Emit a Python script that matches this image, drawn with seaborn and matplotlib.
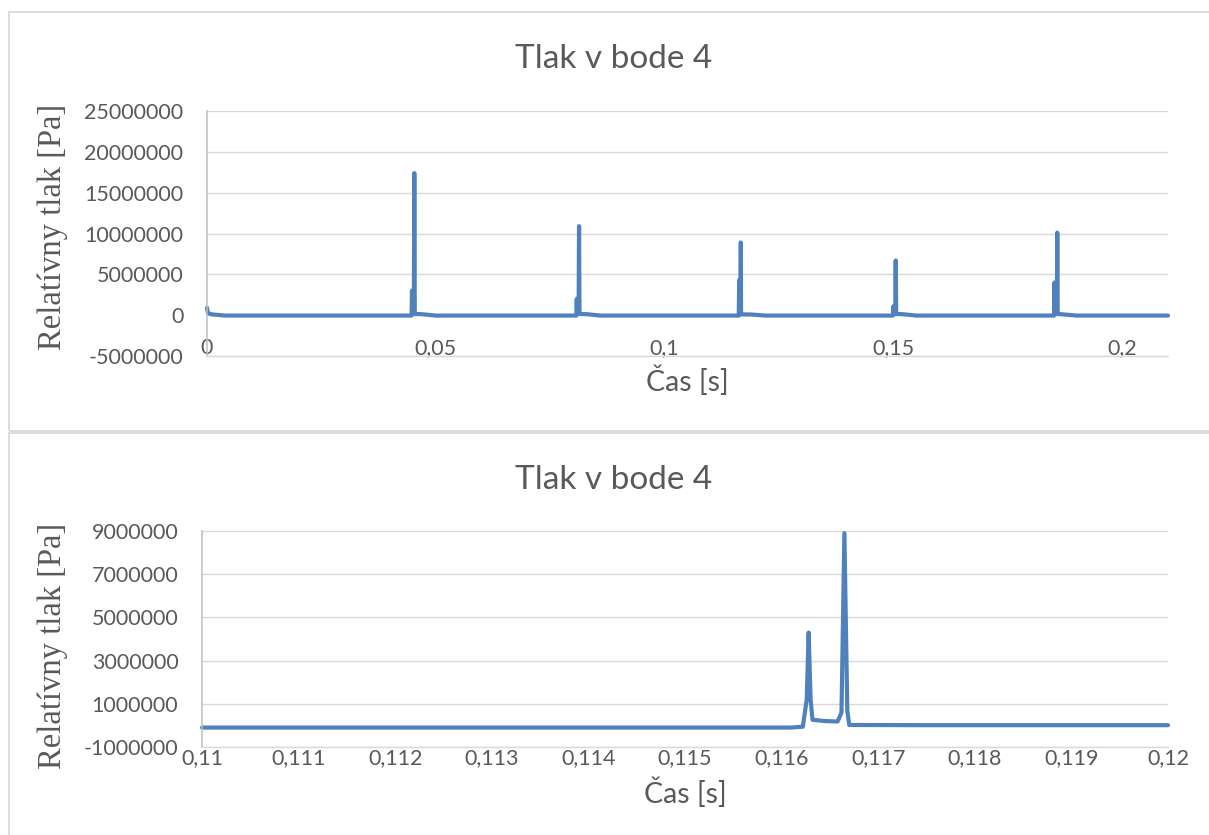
import seaborn as sns
import matplotlib
matplotlib.use("Agg")
import matplotlib.pyplot as plt
from matplotlib.patches import Rectangle
from matplotlib.ticker import FuncFormatter, MultipleLocator, FixedLocator

# data
# top: whole record, 0 .. 0.21 s
top_time = [0, 0.0002, 0.001, 0.004,
            0.0447, 0.0448, 0.0449, 0.0452, 0.0453, 0.0454, 0.047, 0.050,
            0.0807, 0.0808, 0.0809, 0.0812, 0.0813, 0.0814, 0.083, 0.086,
            0.1162, 0.1163, 0.1164, 0.11655, 0.11665, 0.1167, 0.119, 0.122,
            0.1499, 0.1500, 0.1501, 0.1504, 0.1505, 0.1506, 0.152, 0.155,
            0.1851, 0.1852, 0.1853, 0.1857, 0.1858, 0.1859, 0.187, 0.190,
            0.21]
top_pressure = [900000, 250000, 100000, -50000,
                -50000, 3000000, 200000, 200000, 17400000, 150000, 120000, -50000,
                -50000, 2000000, 200000, 200000, 10900000, 150000, 120000, -50000,
                -50000, 4300000, 200000, 200000, 8900000, 100000, 80000, -50000,
                -50000, 1100000, 200000, 200000, 6700000, 150000, 120000, -50000,
                -50000, 4000000, 200000, 200000, 10100000, 150000, 100000, -50000,
                -50000]
top_yticks = [-5000000, 0, 5000000, 10000000, 15000000, 20000000, 25000000]

# bottom: detail 0.110 .. 0.120 s
bottom_time = [0.110, 0.1161, 0.11622, 0.11626, 0.11628, 0.11630, 0.11632,
               0.11645, 0.11658, 0.11662, 0.11665, 0.11668, 0.11670, 0.1175, 0.120]
bottom_pressure = [-100000, -100000, -60000, 1200000, 4300000, 1200000, 260000,
                   200000, 180000, 600000, 8900000, 700000, 20000, 10000, 10000]
bottom_yticks = [-1000000, 1000000, 3000000, 5000000, 7000000, 9000000]

title = "Tlak v bode 4"
xlabel = "Čas [s]"
ylabel = "Relatívny tlak [Pa]"

line_color = "#4F81BD"
text_color = "#595959"
grid_color = "#D9D9D9"

sns.set_style("white")
plt.rcParams["font.family"] = ["Lato", "DejaVu Sans"]

W, H = 1209, 835
fig = plt.figure(figsize=(W / 100, H / 100), dpi=100)

# chart area borders
fig.add_artist(Rectangle((9 / W, 1 - 431 / H), 1.2, (431 - 12) / H,
                         transform=fig.transFigure, fill=False,
                         ec=grid_color, lw=1.3))
fig.add_artist(Rectangle((9 / W, -0.2), 1.2, 0.2 + 1 - 432.5 / H,
                         transform=fig.transFigure, fill=False,
                         ec=grid_color, lw=1.3))

ax1 = fig.add_axes([207 / W, 1 - 356 / H, (1168 - 207) / W, (356 - 111) / H])
ax2 = fig.add_axes([202 / W, 1 - 747 / H, (1168 - 202) / W, (747 - 531) / H])


def comma_fmt(v, pos):
    s = f"{v:.3f}".rstrip("0").rstrip(".")
    return s.replace(".", ",")


def int_fmt(v, pos):
    return f"{v:.0f}"


def style_axis(ax, xlim, yticks, xstep, xpad, ylab_xy, title_xy, xlab_y):
    ax.set_xlim(*xlim)
    ax.set_ylim(yticks[0], yticks[-1])
    ax.xaxis.set_major_locator(MultipleLocator(xstep))
    ax.yaxis.set_major_locator(FixedLocator(yticks))
    ax.xaxis.set_major_formatter(FuncFormatter(comma_fmt))
    ax.yaxis.set_major_formatter(FuncFormatter(int_fmt))
    ax.grid(axis="y", color=grid_color, lw=1.0)
    ax.grid(axis="x", visible=False)
    ax.set_axisbelow(True)
    for side in ["top", "right"]:
        ax.spines[side].set_visible(False)
    ax.spines["left"].set_color("#BFBFBF")
    ax.spines["left"].set_linewidth(1.1)
    ax.spines["bottom"].set_color(grid_color)
    ax.spines["bottom"].set_linewidth(1.0)
    ax.tick_params(axis="y", length=0, pad=17, labelsize=15.5, labelcolor=text_color)
    ax.tick_params(axis="x", length=0, pad=xpad, labelsize=15.5, labelcolor=text_color)
    ax.set_xlabel(xlabel, fontsize=20.5, color=text_color)
    ax.xaxis.set_label_coords(0.5, xlab_y)
    ax.set_ylabel(ylabel, fontsize=23.5, color=text_color,
                  family=["Liberation Serif", "DejaVu Serif"])
    ax.yaxis.set_label_coords(*ylab_xy)
    ax.set_title(title, fontsize=24, color=text_color,
                 x=title_xy[0], y=title_xy[1], pad=0)


sns.lineplot(x=top_time, y=top_pressure, ax=ax1, color=line_color,
             linewidth=3.0, estimator=None, solid_joinstyle="round",
             solid_capstyle="round")
style_axis(ax1, (0, 0.21), top_yticks, 0.05, -13,
           (-0.145, 0.527), (0.4235, 1.175), -0.04)

sns.lineplot(x=bottom_time, y=bottom_pressure, ax=ax2, color=line_color,
             linewidth=3.0, estimator=None, solid_joinstyle="round",
             solid_capstyle="round")
style_axis(ax2, (0.11, 0.12), bottom_yticks, 0.001, 1,
           (-0.139, 0.4676), (0.4265, 1.194), -0.143)

for ax in (ax1, ax2):
    for line in ax.lines:
        line.set_clip_on(False)

fig.savefig("out.png", dpi=100)
